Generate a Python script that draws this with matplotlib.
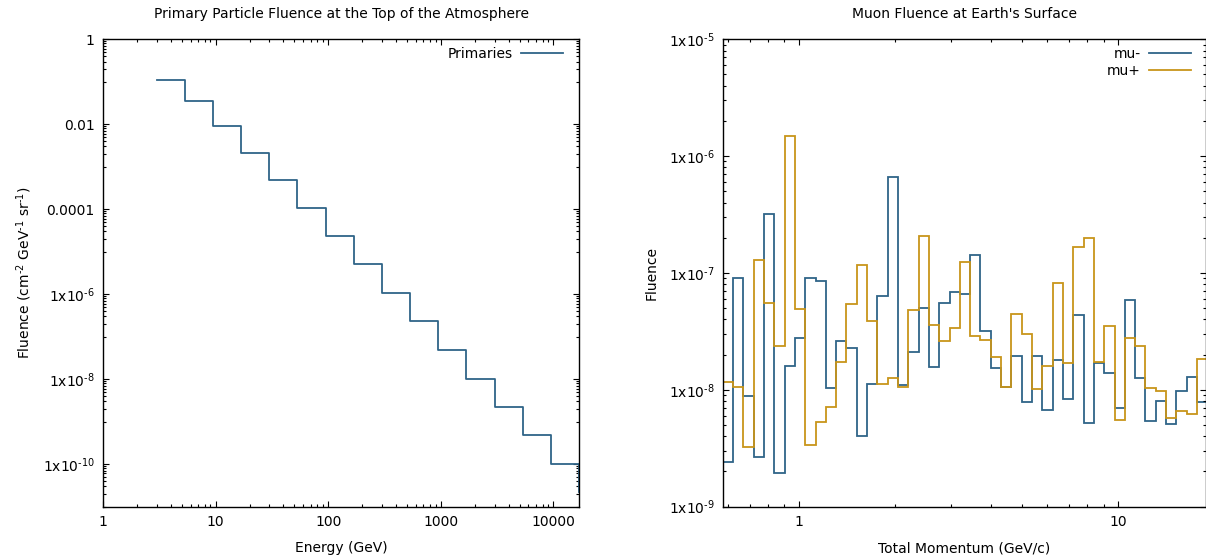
import matplotlib
matplotlib.use("Agg")
import matplotlib.pyplot as plt
from matplotlib.ticker import FixedLocator, NullFormatter

# primary spectrum, drawn as steps: fluence held from each energy to the next
primary_energy = [3.0, 5.33, 9.49, 16.9, 30.0, 53.3, 94.9, 169.0, 300.0,
                  533.0, 949.0, 1690.0, 3000.0, 5330.0, 9490.0, 16870.0]
primary_fluence = [0.112, 0.0355, 0.00933, 0.00216, 4.93e-4, 1.06e-4,
                   2.29e-5, 5.04e-6, 1.05e-6, 2.30e-7, 4.79e-8, 1.03e-8,
                   2.19e-9, 4.73e-10, 1.02e-10, 2.14e-11]

# muon momentum bins (GeV/c)
momentum_edges = [0.5768, 0.6213, 0.6693, 0.7210, 0.7767, 0.8367, 0.9013,
                  0.9709, 1.0459, 1.1267, 1.2137, 1.3074, 1.4084, 1.5172,
                  1.6343, 1.7605, 1.8965, 2.0429, 2.2007, 2.3706, 2.5537,
                  2.7509, 2.9633, 3.1921, 3.4386, 3.7042, 3.9902, 4.2983,
                  4.6302, 4.9878, 5.3729, 5.7878, 6.2348, 6.7162, 7.2349,
                  7.7936, 8.3954, 9.0437, 9.7420, 10.494, 11.305, 12.178,
                  13.118, 14.131, 15.222, 16.398, 17.664, 19.028]
mu_minus = [2.40e-9, 9.12e-8, 8.91e-9, 2.66e-9, 3.17e-7, 1.95e-9, 1.61e-8,
            2.79e-8, 9.12e-8, 8.49e-8, 1.04e-8, 2.62e-8, 2.28e-8, 4.03e-9,
            1.13e-8, 6.29e-8, 6.63e-7, 1.10e-8, 2.12e-8, 5.05e-8, 1.55e-8,
            5.56e-8, 6.92e-8, 6.58e-8, 1.43e-7, 3.15e-8, 1.53e-8, 1.06e-8,
            1.93e-8, 7.92e-9, 1.93e-8, 6.72e-9, 1.78e-8, 8.27e-9, 4.35e-8,
            5.18e-9, 1.69e-8, 1.38e-8, 7.04e-9, 5.87e-8, 1.27e-8, 5.38e-9,
            8.08e-9, 5.07e-9, 9.83e-9, 1.29e-8, 7.92e-9]
mu_plus = [1.17e-8, 1.06e-8, 3.20e-9, 1.29e-7, 5.50e-8, 2.36e-8, 1.49e-6,
           4.95e-8, 3.34e-9, 5.29e-9, 7.17e-9, 1.73e-8, 5.38e-8, 1.18e-7,
           3.90e-8, 1.11e-8, 1.27e-8, 1.05e-8, 4.85e-8, 2.05e-7, 3.61e-8,
           2.60e-8, 3.38e-8, 1.25e-7, 2.90e-8, 2.69e-8, 1.90e-8, 1.05e-8,
           4.46e-8, 3.01e-8, 1.01e-8, 1.58e-8, 8.16e-8, 1.70e-8, 1.68e-7,
           1.99e-7, 1.74e-8, 3.53e-8, 5.54e-9, 2.75e-8, 2.37e-8, 1.04e-8,
           9.72e-9, 5.74e-9, 6.59e-9, 6.18e-9, 1.83e-8]

left_yticks = [1, 1e-2, 1e-4, 1e-6, 1e-8, 1e-10]
left_ylabels = ["1", "0.01", "0.0001", r"1x10$^{\text{-6}}$",
                r"1x10$^{\text{-8}}$", r"1x10$^{\text{-10}}$"]
left_xticks = [1, 10, 100, 1000, 10000]
left_xlabels = ["1", "10", "100", "1000", "10000"]
right_yticks = [1e-5, 1e-6, 1e-7, 1e-8, 1e-9]
right_ylabels = [r"1x10$^{\text{-%d}}$" % n for n in (5, 6, 7, 8, 9)]
right_xticks = [1, 10]
right_xlabels = ["1", "10"]

BLUE = "#2f6488"
GOLD = "#c8951a"
FS = 10

plt.rcParams["font.family"] = "DejaVu Sans"
plt.rcParams["font.size"] = FS
plt.rcParams["mathtext.default"] = "regular"

fig = plt.figure(figsize=(12.06, 5.58), dpi=100)
W, H = 1206.0, 558.0


def place(x0, x1, top, bottom):
    return [x0 / W, (H - bottom) / H, (x1 - x0) / W, (bottom - top) / H]


def style(ax):
    for s in ax.spines.values():
        s.set_linewidth(1.0)
    ax.tick_params(which="both", direction="in", top=True, right=True,
                   labelsize=FS, pad=6)
    ax.tick_params(which="major", length=4.5, width=0.8)
    ax.tick_params(which="minor", length=2.2, width=0.8)


# left panel
ax1 = fig.add_axes(place(103, 579, 39.3, 506.5))
ax1.step(primary_energy, primary_fluence, where="post", color=BLUE,
         lw=1.3, label="Primaries")
ax1.set_xscale("log")
ax1.set_yscale("log")
ax1.set_xlim(1, 16870)
ax1.set_ylim(1e-11, 1)
ax1.xaxis.set_major_locator(FixedLocator(left_xticks))
ax1.set_xticklabels(left_xlabels)
ax1.xaxis.set_minor_locator(FixedLocator(
    [m * 10.0 ** e for e in range(0, 5) for m in range(2, 10)]))
ax1.xaxis.set_minor_formatter(NullFormatter())
ax1.yaxis.set_major_locator(FixedLocator(left_yticks))
ax1.set_yticklabels(left_ylabels)
ax1.yaxis.set_minor_locator(FixedLocator(
    [m * 10.0 ** e for e in range(-11, 0, 2) for m in range(1, 10)]))
ax1.yaxis.set_minor_formatter(NullFormatter())
style(ax1)
ax1.set_title("Primary Particle Fluence at the Top of the Atmosphere",
              fontsize=FS, pad=15)
ax1.set_xlabel("Energy (GeV)", fontsize=FS, labelpad=9)
ax1.set_ylabel(r"Fluence (cm$^{\text{-2}}$ GeV$^{\text{-1}}$ "
               r"sr$^{\text{-1}}$)", fontsize=FS, labelpad=6)
ax1.legend(loc="upper right", bbox_to_anchor=(0.966, 0.984), frameon=False,
           markerfirst=False, borderaxespad=0, borderpad=0, handlelength=3.0,
           handletextpad=0.6, fontsize=FS)

# right panel
ax2 = fig.add_axes(place(722.7, 1205.5, 39.3, 506.5))
ax2.stairs(mu_minus, momentum_edges, baseline=None, color=BLUE, lw=1.3,
           label="mu-")
ax2.stairs(mu_plus, momentum_edges, baseline=None, color=GOLD, lw=1.3,
           label="mu+")
ax2.set_xscale("log")
ax2.set_yscale("log")
ax2.set_xlim(0.5768, 18.78)
ax2.set_ylim(1e-9, 1e-5)
ax2.xaxis.set_major_locator(FixedLocator(right_xticks))
ax2.set_xticklabels(right_xlabels)
ax2.xaxis.set_minor_locator(FixedLocator(
    [m * 10.0 ** e for e in range(-1, 2) for m in range(2, 10)]))
ax2.xaxis.set_minor_formatter(NullFormatter())
ax2.yaxis.set_major_locator(FixedLocator(right_yticks))
ax2.set_yticklabels(right_ylabels)
ax2.yaxis.set_minor_locator(FixedLocator(
    [m * 10.0 ** e for e in range(-9, -5) for m in range(2, 10)]))
ax2.yaxis.set_minor_formatter(NullFormatter())
style(ax2)
ax2.set_title("Muon Fluence at Earth's Surface", fontsize=FS, pad=15)
ax2.set_xlabel("Total Momentum (GeV/c)", fontsize=FS, labelpad=9)
ax2.set_ylabel("Fluence", fontsize=FS, labelpad=7)
ax2.legend(loc="upper right", bbox_to_anchor=(0.969, 0.984), frameon=False,
           markerfirst=False, borderaxespad=0, borderpad=0, handlelength=3.0,
           handletextpad=0.6, labelspacing=0.25, fontsize=FS)

fig.savefig("out.png", dpi=100)
